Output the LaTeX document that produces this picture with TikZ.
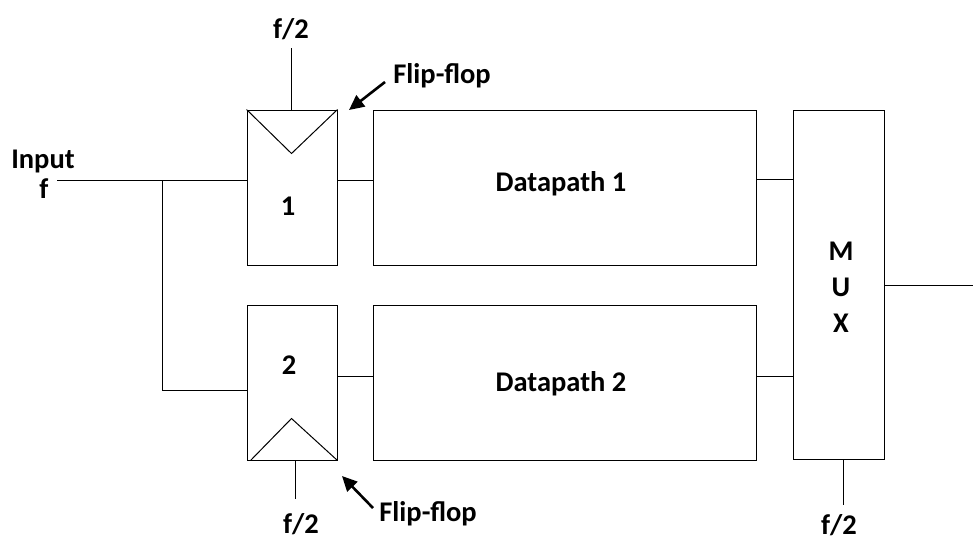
\documentclass[tikz,border=0pt]{standalone}
\usepackage{fontspec}
\setmainfont{Carlito}
\usetikzlibrary{arrows.meta}
\begin{document}
\begin{tikzpicture}[x=1pt,y=-1pt,
  box/.style={draw,line width=1pt,minimum width=#1,inner sep=0pt},
  lbl/.style={font=\bfseries\fontsize{28.5}{36}\selectfont,inner sep=0pt},
  wire/.style={line width=1pt},
  ptr/.style={line width=2.6pt,-{Triangle[length=15pt,width=14pt]}}]
\useasboundingbox (0,0) rectangle (973,541);
% boxes
\node[box=90pt,minimum height=155pt] (ff1) at (292,187.5) {};
\node[box=90pt,minimum height=155pt] (ff2) at (292,382.5) {};
\node[box=383pt,minimum height=155pt] (dp1) at (564.5,187.5) {};
\node[box=383pt,minimum height=155pt] (dp2) at (564.5,382.5) {};
\node[box=91pt,minimum height=349pt] (mux) at (838.5,284.5) {};
% texts
\node[lbl] (t1) at (288,206) {1};
\node[lbl] (t2) at (289,365) {2};
\node[lbl] (d1) at (561,184) {Datapath 1};
\node[lbl] (d2) at (561,384) {Datapath 2};
\node[lbl,align=center] (mt) at (841,287) {M\\U\\X};
\node[lbl] (inp) at (43,161) {Input};
\node[lbl] (fin) at (44,189) {f};
\node[lbl] (c1) at (291,29) {f/2};
\node[lbl] (c2) at (301,524) {f/2};
\node[lbl] (c3) at (839,525) {f/2};
\node[lbl] (fl1) at (442,76) {Flip-flop};
\node[lbl] (fl2) at (428,514) {Flip-flop};
% clock triangles
\draw[wire] (ff1.north west) -- ++(45,44) -- (ff1.north east);
\draw[wire] ([xshift=4pt]ff2.south west) -- ++(41,-42) -- (ff2.south east);
% input network
\coordinate (in) at (57,180);
\coordinate (j) at (162,180);
\draw[wire] (in) -- (in -| ff1.west);
\draw[wire] (j) |- (ff2.west |- 0,390);
% datapath links
\draw[wire] (ff1.east |- 0,180) -- (dp1.west |- 0,180);
\draw[wire] (ff2.east |- 0,376) -- (dp2.west |- 0,376);
\draw[wire] (dp1.east |- 0,179) -- (mux.west |- 0,179);
\draw[wire] (dp2.east |- 0,376) -- (mux.west |- 0,376);
\coordinate (out) at (973,285);
\draw[wire] (mux.east |- out) -- (out);
% clock lines
\coordinate (k1) at (291,48);
\draw[wire] (k1) -- (k1 |- ff1.north);
\coordinate (k2) at (295,499);
\draw[wire] (k2 |- ff2.south) -- (k2);
\coordinate (k3) at (843,505);
\draw[wire] (k3 |- mux.south) -- (k3);
% pointer arrows
\coordinate (a1) at (385,82);
\coordinate (b1) at (349,110);
\draw[ptr] (a1) -- (b1);
\coordinate (a2) at (373,508);
\coordinate (b2) at (342,476);
\draw[ptr] (a2) -- (b2);
\end{tikzpicture}
\end{document}
